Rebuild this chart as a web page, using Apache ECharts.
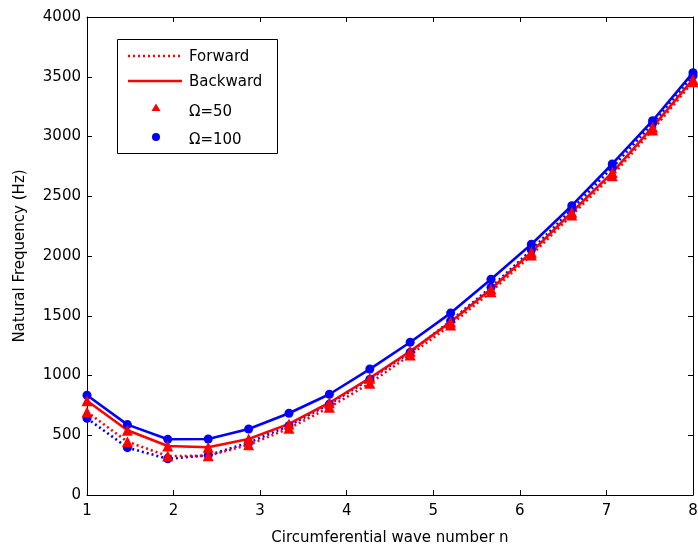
<!DOCTYPE html>
<html>
<head>
<meta charset="utf-8">
<script src="https://cdn.jsdelivr.net/npm/echarts@6/dist/echarts.min.js"></script>
<style>html,body{margin:0;padding:0;background:#fff;}#c{width:698px;height:545px;}</style>
</head>
<body>
<div id="c"></div>
<script>
const nValues = [1, 1.467, 1.933, 2.4, 2.867, 3.333, 3.8, 4.267, 4.733, 5.2, 5.667, 6.133, 6.6, 7.067, 7.533, 8];
const forward50 = [695, 446, 326, 328, 420, 558, 734, 935, 1172, 1423, 1701, 2008, 2343, 2672, 3054, 3459];
const backward50 = [789, 542, 410, 399, 468, 595, 772, 978, 1203, 1447, 1724, 2032, 2366, 2698, 3078, 3478];
const forward100 = [642, 396, 303, 332, 438, 580, 761, 968, 1194, 1457, 1738, 2050, 2391, 2740, 3108, 3508];
const backward100 = [835, 589, 466, 469, 552, 684, 843, 1054, 1278, 1522, 1805, 2098, 2421, 2770, 3132, 3534];
const xTicks = [1, 2, 3, 4, 5, 6, 7, 8];
const yTicks = [0, 500, 1000, 1500, 2000, 2500, 3000, 3500, 4000];
const legendLabels = ['Forward', 'Backward', '\u03A9=50', '\u03A9=100'];

const FONT = 'DejaVu Sans';
const RED = '#ff0000', BLUE = '#0000ff';
const pairs = (ys) => nValues.map((x, i) => [x, ys[i]]);

function mkSeries(name, ys, color, dotted, symbol) {
  return {
    name: name, type: 'line', data: pairs(ys), xAxisIndex: 0, yAxisIndex: 0,
    symbol: symbol, symbolSize: symbol === 'circle' ? 9 : 11,
    showAllSymbol: true,
    lineStyle: { color: color, width: 2.6, type: dotted ? [2, 3] : 'solid' },
    itemStyle: { color: color },
    emphasis: { disabled: true }, animation: false
  };
}

const axisCommon = {
  axisLine: { show: true, onZero: false, lineStyle: { color: '#000', width: 1 } },
  axisTick: { show: true, inside: true, length: 5, lineStyle: { color: '#000' } },
  splitLine: { show: false }
};

const chart = echarts.init(document.getElementById('c'), null, { renderer: 'canvas' });
chart.setOption({
  animation: false,
  backgroundColor: '#fff',
  grid: { left: 87, right: 5, top: 17, bottom: 50, containLabel: false, outerBoundsMode: 'none' },
  xAxis: [
    Object.assign({
      type: 'value', position: 'bottom', min: xTicks[0], max: xTicks[xTicks.length - 1], interval: 1,
      axisLabel: { show: true, fontFamily: FONT, fontSize: 15, color: '#000', margin: 9,
        formatter: v => xTicks.includes(v) ? String(v) : '' },
      name: 'Circumferential wave number n', nameLocation: 'middle', nameGap: 36,
      nameTextStyle: { fontFamily: FONT, fontSize: 15, color: '#000' }
    }, axisCommon),
    Object.assign({
      type: 'value', position: 'top', min: xTicks[0], max: xTicks[xTicks.length - 1], interval: 1,
      axisLabel: { show: false }
    }, axisCommon)
  ],
  yAxis: [
    Object.assign({
      type: 'value', position: 'left', min: yTicks[0], max: yTicks[yTicks.length - 1], interval: 500,
      axisLabel: { show: true, fontFamily: FONT, fontSize: 15, color: '#000', margin: 6,
        formatter: v => yTicks.includes(v) ? String(v) : '' },
      name: 'Natural Frequency (Hz)', nameLocation: 'middle', nameGap: 59,
      nameTextStyle: { fontFamily: FONT, fontSize: 15, color: '#000' }
    }, axisCommon),
    Object.assign({
      type: 'value', position: 'right', min: yTicks[0], max: yTicks[yTicks.length - 1], interval: 500,
      axisLabel: { show: false }
    }, axisCommon)
  ],
  series: [
    mkSeries('Forward \u03A9=100', forward100, BLUE, true, 'circle'),
    mkSeries('Backward \u03A9=100', backward100, BLUE, false, 'circle'),
    mkSeries('Forward \u03A9=50', forward50, RED, true, 'triangle'),
    mkSeries('Backward \u03A9=50', backward50, RED, false, 'triangle')
  ],
  graphic: [
    { type: 'rect', shape: { x: 117.5, y: 39.5, width: 160, height: 114 },
      style: { fill: '#fff', stroke: '#000', lineWidth: 1 }, z: 100 },
    { type: 'line', shape: { x1: 128, y1: 56, x2: 182, y2: 56 },
      style: { stroke: RED, lineWidth: 2.5, lineDash: [2, 3] }, z: 101 },
    { type: 'line', shape: { x1: 128, y1: 81, x2: 182, y2: 81 },
      style: { stroke: RED, lineWidth: 2.5 }, z: 101 },
    { type: 'polygon', shape: { points: [[156, 103.5], [160.5, 111], [151.5, 111]] },
      style: { fill: RED }, z: 101 },
    { type: 'circle', shape: { cx: 156, cy: 137, r: 4 }, style: { fill: BLUE }, z: 101 },
    { type: 'text', x: 189, y: 57, style: { text: legendLabels[0], font: '15px "DejaVu Sans"', fill: '#000', verticalAlign: 'middle' }, z: 101 },
    { type: 'text', x: 189, y: 82, style: { text: legendLabels[1], font: '15px "DejaVu Sans"', fill: '#000', verticalAlign: 'middle' }, z: 101 },
    { type: 'text', x: 189, y: 112, style: { text: legendLabels[2], font: '15px "DejaVu Sans"', fill: '#000', verticalAlign: 'middle' }, z: 101 },
    { type: 'text', x: 189, y: 140, style: { text: legendLabels[3], font: '15px "DejaVu Sans"', fill: '#000', verticalAlign: 'middle' }, z: 101 }
  ]
});
</script>
</body>
</html>
